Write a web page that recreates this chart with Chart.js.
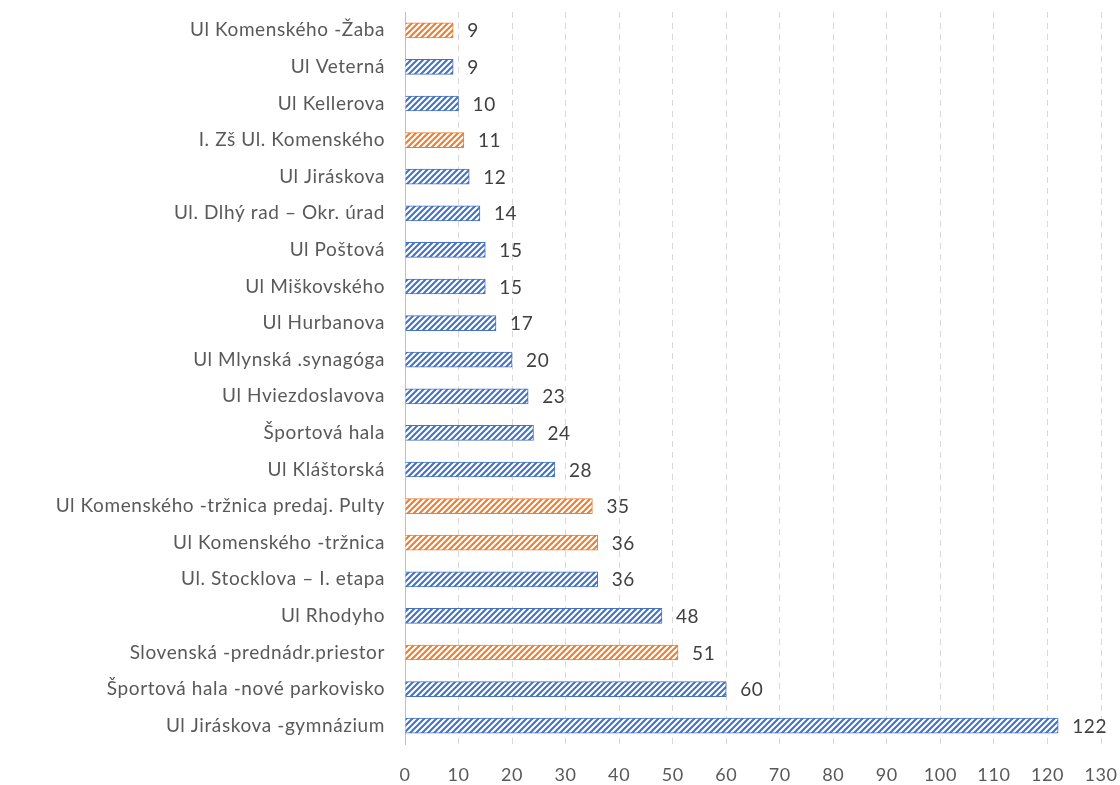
<!DOCTYPE html>
<html>
<head>
<meta charset="utf-8">
<script src="https://cdn.jsdelivr.net/npm/chart.js@4"></script>
<style>
  html, body { margin: 0; padding: 0; background: #fff; }
  #wrap { width: 1120px; height: 785px; }
</style>
</head>
<body>
<div id="wrap"><canvas id="graf"></canvas></div>
<script>
// DATOS
const kategorie = [
  "Ul Komenského -Žaba",
  "Ul Veterná",
  "Ul Kellerova",
  "I. Zš Ul. Komenského",
  "Ul Jiráskova",
  "Ul. Dlhý rad – Okr. úrad",
  "Ul Poštová",
  "Ul Miškovského",
  "Ul Hurbanova",
  "Ul Mlynská .synagóga",
  "Ul Hviezdoslavova",
  "Športová hala",
  "Ul Kláštorská",
  "Ul Komenského -tržnica predaj. Pulty",
  "Ul Komenského -tržnica",
  "Ul. Stocklova – I. etapa",
  "Ul Rhodyho",
  "Slovenská -prednádr.priestor",
  "Športová hala -nové parkovisko",
  "Ul Jiráskova -gymnázium"
];
const hodnoty = [9, 9, 10, 11, 12, 14, 15, 15, 17, 20, 23, 24, 28, 35, 36, 36, 48, 51, 60, 122];
// 1 = oranzova, 0 = modra
const oranzove = [1, 0, 0, 1, 0, 0, 0, 0, 0, 0, 0, 0, 0, 1, 1, 0, 0, 1, 0, 0];
const osX = [0, 10, 20, 30, 40, 50, 60, 70, 80, 90, 100, 110, 120, 130];

const MODRA = '#4472C4';
const ORANZ = '#ED7D31';
const PISMO = 'Lato, "Open Sans", sans-serif';

// SRAFOVANIE
function srafa(farba) {
  const c = document.createElement('canvas');
  c.width = 6; c.height = 6;
  const g = c.getContext('2d');
  g.fillStyle = farba;
  g.fillRect(0, 0, 6, 6);
  g.strokeStyle = '#ffffff';
  g.lineWidth = 2.2;
  g.beginPath();
  g.moveTo(-1, 7); g.lineTo(7, -1);
  g.moveTo(-4, 4); g.lineTo(4, -4);
  g.moveTo(2, 10); g.lineTo(10, 2);
  g.stroke();
  return g.createPattern(c, 'repeat');
}
const vzorModra = srafa(MODRA);
const vzorOranz = srafa(ORANZ);

// rozostupy pismen ako v povodnom grafe
const rozostup = {
  id: 'rozostup',
  beforeDraw(chart) { chart.ctx.letterSpacing = '0.6px'; }
};

// POPISKY HODNOT
const popisky = {
  id: 'popisky',
  afterDatasetsDraw(chart) {
    const ctx = chart.ctx;
    const meta = chart.getDatasetMeta(0);
    ctx.save();
    ctx.font = '19px ' + PISMO;
    ctx.fillStyle = '#404040';
    ctx.textAlign = 'left';
    ctx.textBaseline = 'middle';
    meta.data.forEach((bar, i) => {
      ctx.fillText(String(hodnoty[i]), bar.x + 14, bar.y + 1);
    });
    ctx.restore();
  }
};

new Chart(document.getElementById('graf'), {
  type: 'bar',
  data: {
    labels: kategorie,
    datasets: [{
      data: hodnoty,
      backgroundColor: oranzove.map(o => o ? vzorOranz : vzorModra),
      borderColor: oranzove.map(o => o ? ORANZ : MODRA),
      borderWidth: 1,
      barThickness: 15
    }]
  },
  options: {
    indexAxis: 'y',
    responsive: true,
    maintainAspectRatio: false,
    animation: false,
    layout: { padding: { top: 12, right: 19, bottom: 0, left: 0 } },
    plugins: {
      legend: { display: false },
      tooltip: { enabled: false }
    },
    scales: {
      x: {
        min: 0,
        max: 130,
        afterBuildTicks(scale) { scale.ticks = osX.map(v => ({ value: v })); },
        afterFit(scale) { scale.height = 41; },
        grid: {
          color: '#d9d9d9',
          lineWidth: 1,
          drawTicks: true,
          tickLength: 20,
          tickColor: 'rgba(0,0,0,0)'
        },
        border: { display: false, dash: [6, 5], color: '#d9d9d9' },
        ticks: {
          color: '#595959',
          font: { family: PISMO, size: 18 },
          padding: 0
        }
      },
      y: {
        afterFit(scale) { scale.width = 405; },
        grid: { display: false, drawTicks: true, tickLength: 20, tickColor: 'rgba(0,0,0,0)' },
        border: { display: true, color: '#bfbfbf', width: 1 },
        ticks: {
          color: '#595959',
          font: { family: PISMO, size: 19 },
          padding: 0,
          autoSkip: false
        }
      }
    }
  },
  plugins: [rozostup, popisky]
});
</script>
</body>
</html>
